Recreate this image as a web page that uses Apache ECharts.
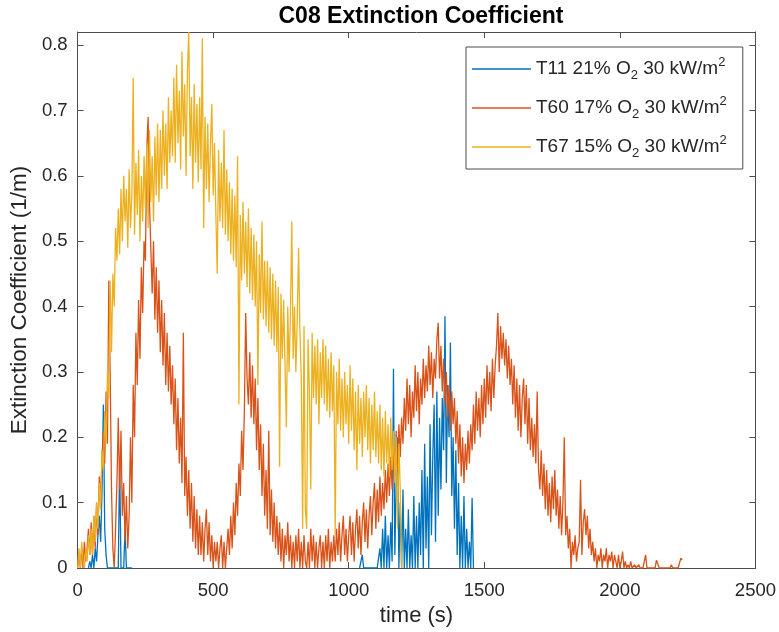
<!DOCTYPE html>
<html>
<head>
<meta charset="utf-8">
<script src="https://cdn.jsdelivr.net/npm/echarts@6/dist/echarts.min.js"></script>
<style>
  html, body { margin: 0; padding: 0; background: #fff; }
  #chart { width: 779px; height: 632px; }
</style>
</head>
<body>
<div id="chart"></div>
<script>
// Sampling interval of the smoke-meter records (s)
const T_STEP = 5;

// Axis ticks
const xTicks = [0, 500, 1000, 1500, 2000, 2500];
const yTicks = [0, 0.1, 0.2, 0.3, 0.4, 0.5, 0.6, 0.7, 0.8];
const yMax = 0.82;

// Series names
const names = ['T11 21% O2 30 kW/m2', 'T60 17% O2 30 kW/m2', 'T67 15% O2 30 kW/m2'];

// T11: two burning periods, start times (s) and extinction coefficient (1/m)
const t11EarlyStart = 40;
const t11Early = [
  0, 0.01, 0, 0.02, 0, 0.03, 0.01, 0.05,
  0.08, 0.04, 0.12, 0.25, 0.06, 0.02, 0, 0,
  0, 0, 0, 0, 0, 0, 0, 0.165,
  0, 0, 0, 0.06, 0, 0, 0, 0, 0
];
const t11LateStart = 1040;
const t11Late = [
  0, 0, 0.02, 0, 0, 0, 0, 0, 0, 0,
  0, 0, 0, 0, 0, 0.03, 0, 0.06, 0, 0.08,
  0, 0.05, 0, 0.07, 0.01, 0.305, 0.02, 0.13, 0.2, 0,
  0.1, 0, 0.12, 0, 0.06, 0, 0.09, 0, 0.05, 0,
  0.11, 0, 0.08, 0, 0.1, 0.02, 0.15, 0, 0.19, 0.03,
  0.14, 0, 0.22, 0.05, 0.17, 0.25, 0.04, 0.27, 0.08, 0.23,
  0.12, 0.26, 0.18, 0.385, 0.13, 0.28, 0.2, 0.345, 0.11, 0.2,
  0.06, 0.18, 0.02, 0.13, 0, 0.08, 0, 0.11, 0, 0.06,
  0, 0.04, 0, 0.107, 0
];

// T60: from t = 0 s
const t60Start = 0;
const t60 = [
  0, 0.02, 0, 0.03, 0, 0.04, 0.01, 0.03, 0.06, 0.02,
  0.07, 0.02, 0.08, 0.03, 0.1, 0.05, 0.14, 0.1, 0.17, 0.21,
  0.16, 0.27, 0.19, 0.44, 0.3, 0.12, 0.03, 0, 0.06, 0.13,
  0.23, 0.12, 0.21, 0.08, 0.13, 0.04, 0.11, 0.03, 0.08, 0.2,
  0.1, 0.28, 0.2, 0.36, 0.28, 0.41, 0.32, 0.46, 0.39, 0.5,
  0.47, 0.64, 0.69, 0.56, 0.49, 0.42, 0.5, 0.38, 0.46, 0.36,
  0.44, 0.33, 0.41, 0.31, 0.39, 0.28, 0.36, 0.27, 0.34, 0.25,
  0.31, 0.22, 0.29, 0.18, 0.26, 0.16, 0.23, 0.13, 0.36, 0.11,
  0.17, 0.08, 0.15, 0.06, 0.13, 0.04, 0.11, 0.03, 0.09, 0.02,
  0.08, 0.02, 0.07, 0.01, 0.06, 0.09, 0.02, 0.07, 0.01, 0.05,
  0, 0.04, 0.01, 0.04, 0, 0.03, 0.05, 0, 0.04, 0,
  0.03, 0.06, 0.02, 0.08, 0.03, 0.1, 0.05, 0.13, 0.08, 0.16,
  0.11, 0.21, 0.15, 0.24, 0.39, 0.29, 0.25, 0.33, 0.23, 0.31,
  0.22, 0.29, 0.18, 0.26, 0.15, 0.22, 0.11, 0.19, 0.08, 0.15,
  0.06, 0.21, 0.05, 0.12, 0.04, 0.1, 0.03, 0.08, 0.02, 0.07,
  0.01, 0.06, 0, 0.05, 0.02, 0.07, 0.01, 0.05, 0, 0.04,
  0, 0.05, 0.01, 0.06, 0, 0.04, 0, 0.05, 0.01, 0,
  0.04, 0, 0.06, 0.01, 0.05, 0, 0.04, 0, 0.03, 0.05,
  0, 0.04, 0, 0.05, 0.01, 0.06, 0, 0.04, 0.01, 0.05,
  0.01, 0.06, 0.02, 0.07, 0.01, 0.05, 0.08, 0.02, 0.06, 0.01,
  0.05, 0.08, 0.02, 0.07, 0.01, 0.06, 0.09, 0.03, 0.08, 0.02,
  0.07, 0.1, 0.04, 0.09, 0.03, 0.08, 0.11, 0.05, 0.1, 0.13,
  0.06, 0.12, 0.07, 0.14, 0.08, 0.13, 0.09, 0.15, 0.1, 0.16,
  0.11, 0.17, 0.12, 0.19, 0.14, 0.21, 0.15, 0.22, 0.17, 0.23,
  0.19, 0.26, 0.21, 0.29, 0.22, 0.28, 0.2, 0.27, 0.23, 0.31,
  0.24, 0.3, 0.22, 0.29, 0.25, 0.32, 0.26, 0.31, 0.27, 0.34,
  0.28, 0.33, 0.26, 0.32, 0.29, 0.35, 0.375, 0.29, 0.34, 0.27,
  0.32, 0.25, 0.3, 0.23, 0.28, 0.21, 0.27, 0.22, 0.26, 0.19,
  0.24, 0.16, 0.22, 0.14, 0.2, 0.13, 0.19, 0.15, 0.21, 0.16,
  0.22, 0.18, 0.25, 0.19, 0.27, 0.21, 0.26, 0.2, 0.28, 0.22,
  0.29, 0.23, 0.31, 0.25, 0.3, 0.24, 0.32, 0.26, 0.31, 0.34,
  0.39, 0.3, 0.37, 0.32, 0.36, 0.31, 0.35, 0.29, 0.34, 0.28,
  0.32, 0.25, 0.31, 0.23, 0.29, 0.21, 0.28, 0.2, 0.26, 0.29,
  0.22, 0.28, 0.19, 0.26, 0.18, 0.23, 0.17, 0.22, 0.16, 0.27,
  0.15, 0.12, 0.18, 0.11, 0.16, 0.09, 0.15, 0.08, 0.13, 0.07,
  0.14, 0.09, 0.15, 0.08, 0.12, 0.06, 0.11, 0.05, 0.1, 0.2,
  0.05, 0.08, 0.03, 0.06, 0, 0.04, 0.02, 0.05, 0.01, 0.03,
  0.04, 0.135, 0.02, 0.07, 0.09, 0.05, 0.08, 0.03, 0.06, 0.02,
  0.04, 0.01, 0.03, 0, 0.02, 0.01, 0.03, 0, 0.02, 0.01,
  0.03, 0, 0.02, 0.01, 0.025, 0, 0.02, 0.01, 0, 0.02,
  0, 0.01, 0.025, 0, 0.01, 0, 0.005, 0, 0.01, 0,
  0, 0.005, 0, 0, 0.005, 0, 0, 0, 0, 0.02,
  0, 0, 0, 0, 0, 0, 0, 0.012, 0.01, 0,
  0, 0, 0, 0, 0, 0, 0, 0, 0.005, 0,
  0, 0, 0, 0, 0, 0.015, 0.012
];

// T67: from t = 0 s
const t67Start = 0;
const t67 = [
  0, 0.03, 0, 0.04, 0.01, 0, 0.03, 0.01, 0.05, 0.02,
  0.06, 0.02, 0.08, 0.04, 0.1, 0.06, 0.13, 0.09, 0.18, 0.15,
  0.24, 0.19, 0.3, 0.26, 0.44, 0.33, 0.45, 0.4, 0.52, 0.47,
  0.55, 0.48, 0.58, 0.5, 0.6, 0.53, 0.58, 0.49, 0.61, 0.52,
  0.57, 0.75, 0.51, 0.62, 0.54, 0.64, 0.5, 0.6, 0.53, 0.63,
  0.55, 0.65, 0.52, 0.67, 0.56, 0.63, 0.53, 0.66, 0.57, 0.68,
  0.56, 0.67, 0.58, 0.7, 0.6, 0.68, 0.58, 0.72, 0.62, 0.7,
  0.63, 0.75, 0.62, 0.77, 0.65, 0.73, 0.61, 0.79, 0.66, 0.74,
  0.6, 0.76, 0.82, 0.63, 0.72, 0.58, 0.74, 0.62, 0.71, 0.59,
  0.72, 0.61, 0.81, 0.52, 0.69, 0.58, 0.68, 0.56, 0.65, 0.71,
  0.57, 0.65, 0.54, 0.45, 0.64, 0.53, 0.62, 0.52, 0.67, 0.51,
  0.61, 0.5, 0.59, 0.48, 0.58, 0.47, 0.57, 0.46, 0.63, 0.25,
  0.54, 0.44, 0.56, 0.45, 0.53, 0.43, 0.55, 0.42, 0.52, 0.41,
  0.51, 0.4, 0.5, 0.28, 0.48, 0.39, 0.53, 0.38, 0.47, 0.37,
  0.47, 0.36, 0.46, 0.35, 0.45, 0.34, 0.44, 0.33, 0.43, 0.155,
  0.42, 0.32, 0.41, 0.31, 0.215, 0.4, 0.3, 0.39, 0.53, 0.32,
  0.4, 0.3, 0.38, 0.49, 0.36, 0.29, 0.06, 0.37, 0.09, 0.06,
  0.35, 0.27, 0.12, 0.36, 0.26, 0.34, 0.25, 0.35, 0.22, 0.33,
  0.26, 0.35, 0.25, 0.34, 0.24, 0.32, 0.23, 0.33, 0.24, 0.31,
  0.05, 0.3, 0.22, 0.32, 0.21, 0.29, 0.2, 0.3, 0.22, 0.28,
  0.19, 0.31, 0.21, 0.29, 0.18, 0.27, 0.15, 0.28, 0.19, 0.26,
  0.17, 0.27, 0.2, 0.28, 0.18, 0.26, 0.16, 0.25, 0.18, 0.27,
  0.17, 0.24, 0.16, 0.25, 0.15, 0.23, 0.14, 0.24, 0.16, 0.22,
  0.14, 0.23, 0.15, 0.21, 0.13, 0.2, 0.06, 0.19, 0.12, 0
];

// MATLAB default line colours
const colors = ['#0072BD', '#D95319', '#EDB120'];

function toPairs(start, vals) {
  return vals.map((v, i) => [start + i * T_STEP, v]);
}

const t11Data = toPairs(t11EarlyStart, t11Early)
  .concat([[t11EarlyStart + t11Early.length * T_STEP, '-']])
  .concat(toPairs(t11LateStart, t11Late));
const t60Data = toPairs(t60Start, t60);
const t67Data = toPairs(t67Start, t67);

const TXT = '#262626';
const AX = '#4d4d4d';
const FONT = 'Liberation Sans';

// Legend labels with O2 subscript and m2 superscript
function legendLabel(name) {
  const m = name.match(/^(T\d+ \d+% O)2( 30 kW\/m)2$/);
  return '{n|' + m[1] + '}{sub|2}{n|' + m[2] + '}{sup|2}';
}

const chart = echarts.init(document.getElementById('chart'), null, { renderer: 'canvas' });

const xLabelFmt = v => (xTicks.indexOf(v) >= 0 ? String(v) : '');
const yLabelFmt = v => (yTicks.some(t => Math.abs(t - v) < 1e-9) ? String(+v.toFixed(1)) : '');

chart.setOption({
  animation: false,
  backgroundColor: '#fff',
  color: colors,
  textStyle: { fontFamily: FONT },
  title: {
    text: 'C08 Extinction Coefficient',
    left: 416,
    textAlign: 'center',
    top: 0,
    textStyle: { fontFamily: FONT, fontWeight: 'bold', fontSize: 23, color: '#000' }
  },
  grid: { left: 77, right: 23, top: 32, bottom: 64, containLabel: false },
  legend: {
    orient: 'vertical',
    left: 466,
    top: 47,
    padding: [9, 16, 9, 6],
    itemGap: 13,
    itemWidth: 59,
    itemHeight: 1.3,
    icon: 'rect',
    backgroundColor: '#fff',
    borderColor: AX,
    borderWidth: 1,
    borderRadius: 0,
    data: names,
    formatter: legendLabel,
    textStyle: {
      color: TXT,
      fontFamily: FONT,
      rich: {
        n: { fontSize: 19, fontFamily: FONT, color: TXT, lineHeight: 26, verticalAlign: 'middle' },
        sub: { fontSize: 13, fontFamily: FONT, color: TXT, lineHeight: 13, verticalAlign: 'bottom' },
        sup: { fontSize: 13, fontFamily: FONT, color: TXT, lineHeight: 13, verticalAlign: 'top' }
      }
    }
  },
  xAxis: [
    {
      type: 'value', min: 0, max: 2500, interval: 500,
      name: 'time (s)', nameLocation: 'middle', nameGap: 31,
      nameTextStyle: { fontFamily: FONT, fontSize: 22, color: TXT },
      axisLine: { onZero: false, lineStyle: { color: AX, width: 1 } },
      axisTick: { inside: true, length: 6, lineStyle: { color: AX } },
      axisLabel: { fontFamily: FONT, fontSize: 18.5, color: TXT, margin: 13, formatter: xLabelFmt },
      splitLine: { show: false }
    },
    {
      type: 'value', min: 0, max: 2500, interval: 500, position: 'top',
      axisLine: { onZero: false, lineStyle: { color: AX, width: 1 } },
      axisTick: { inside: true, length: 6, lineStyle: { color: AX } },
      axisLabel: { show: false },
      splitLine: { show: false }
    }
  ],
  yAxis: [
    {
      type: 'value', min: 0, max: yMax, interval: 0.1,
      name: 'Extinction Coefficient (1/m)', nameLocation: 'middle', nameGap: 46,
      nameTextStyle: { fontFamily: FONT, fontSize: 22.5, color: TXT },
      axisLine: { onZero: false, lineStyle: { color: AX, width: 1 } },
      axisTick: { inside: true, length: 6, lineStyle: { color: AX } },
      axisLabel: { fontFamily: FONT, fontSize: 18.5, color: TXT, margin: 10, formatter: yLabelFmt },
      splitLine: { show: false }
    },
    {
      type: 'value', min: 0, max: yMax, interval: 0.1, position: 'right',
      axisLine: { onZero: false, lineStyle: { color: AX, width: 1 } },
      axisTick: { inside: true, length: 6, lineStyle: { color: AX } },
      axisLabel: { show: false },
      splitLine: { show: false }
    }
  ],
  series: [
    { name: names[0], type: 'line', data: t11Data, symbol: 'none', connectNulls: false,
      lineStyle: { color: colors[0], width: 1.3 }, itemStyle: { color: colors[0] }, z: 2 },
    { name: names[1], type: 'line', data: t60Data, symbol: 'none',
      lineStyle: { color: colors[1], width: 1.3 }, itemStyle: { color: colors[1] }, z: 3 },
    { name: names[2], type: 'line', data: t67Data, symbol: 'none',
      lineStyle: { color: colors[2], width: 1.3 }, itemStyle: { color: colors[2] }, z: 4 }
  ]
});
</script>
</body>
</html>
